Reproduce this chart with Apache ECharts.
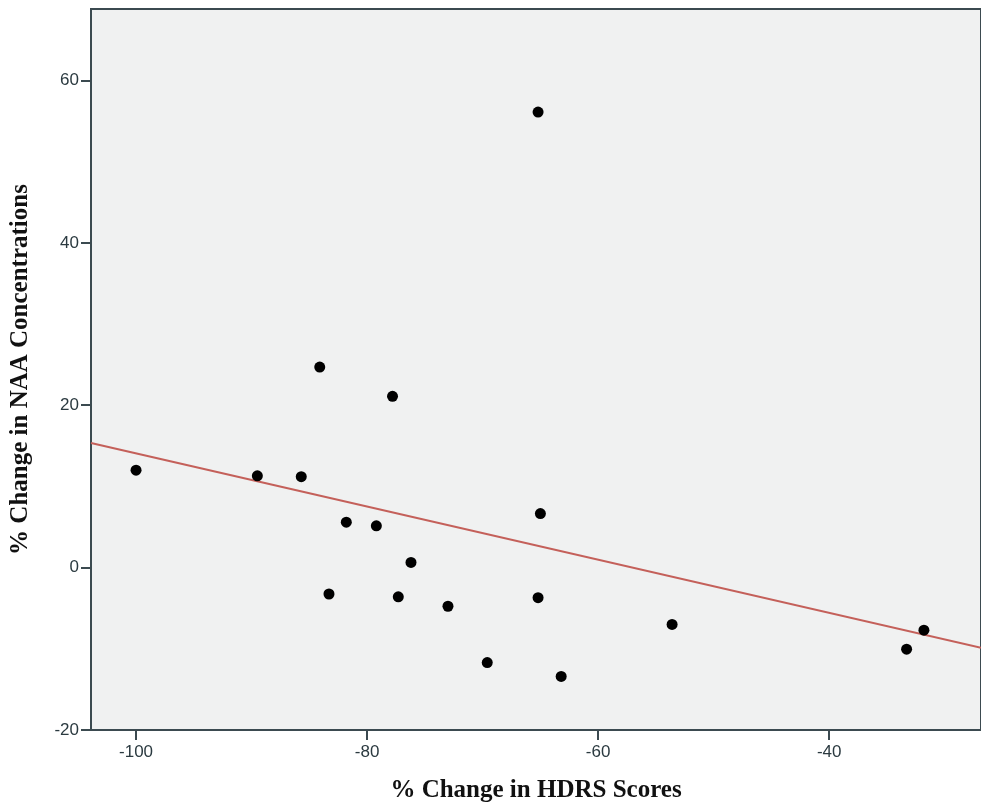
<!DOCTYPE html>
<html>
<head>
<meta charset="utf-8">
<script src="https://cdn.jsdelivr.net/npm/echarts@6/dist/echarts.min.js"></script>
<style>
html,body{margin:0;padding:0;background:#ffffff;}
#chart{width:981px;height:808px;}
</style>
</head>
<body>
<div id="chart"></div>
<script>
// % Change in HDRS Scores (x) and % Change in NAA Concentrations (y)
const hdrsChange = [-100, -89.5, -85.7, -84.1, -81.8, -83.3, -77.8, -79.2, -76.2, -77.3, -73.0, -69.6, -65.2, -65.0, -65.2, -63.2, -53.6, -33.3, -31.8];
const naaChange  = [12.0, 11.3, 11.2, 24.7, 5.6, -3.25, 21.1, 5.15, 0.64, -3.6, -4.76, -11.7, 56.1, 6.66, -3.7, -13.4, -7.0, -10.05, -7.7];
// fitted regression line endpoints
const fitX = [-103.9, -26.86];
const fitY = [15.34, -9.87];
// tick labels
const xTicks = [-100, -80, -60, -40];
const yTicks = [-20, 0, 20, 40, 60];

const points = hdrsChange.map((x, i) => [x, naaChange[i]]);
const fitLine = fitX.map((x, i) => [x, fitY[i]]);

const axisColor = '#3b4a50';
const labelColor = '#2b3a40';

const chart = echarts.init(document.getElementById('chart'), null, {renderer: 'canvas'});
chart.setOption({
  animation: false,
  backgroundColor: '#ffffff',
  grid: {
    left: 88, right: -2, top: 9, bottom: 76,
    show: true,
    backgroundColor: '#f0f1f1',
    borderColor: axisColor,
    borderWidth: 2
  },
  xAxis: {
    type: 'value',
    min: -103.9,
    max: -26.86,
    name: '% Change in HDRS Scores',
    nameLocation: 'middle',
    nameGap: 48,
    nameTextStyle: {fontFamily: 'Liberation Serif', fontWeight: 'bold', fontSize: 25, color: '#111'},
    axisLine: {show: true, onZero: false, lineStyle: {color: axisColor, width: 2}},
    axisTick: {show: true, inside: false, customValues: xTicks, length: 10, lineStyle: {color: axisColor, width: 2}},
    axisLabel: {customValues: xTicks, fontFamily: 'Liberation Sans', fontSize: 17, color: labelColor, margin: 14},
    splitLine: {show: false}
  },
  yAxis: {
    type: 'value',
    min: -20,
    max: 68.8,
    name: '% Change in NAA Concentrations',
    nameLocation: 'middle',
    nameGap: 58,
    nameTextStyle: {fontFamily: 'Liberation Serif', fontWeight: 'bold', fontSize: 25, color: '#111'},
    axisLine: {show: true, onZero: false, lineStyle: {color: axisColor, width: 2}},
    axisTick: {show: true, inside: false, customValues: yTicks, length: 10, lineStyle: {color: axisColor, width: 2}},
    axisLabel: {customValues: yTicks, fontFamily: 'Liberation Sans', fontSize: 17, color: labelColor, margin: 12},
    splitLine: {show: false}
  },
  series: [
    {
      type: 'line',
      data: fitLine,
      showSymbol: false,
      symbol: 'none',
      lineStyle: {color: '#c4605a', width: 2},
      silent: true,
      clip: true,
      z: 2
    },
    {
      type: 'scatter',
      data: points,
      symbol: 'circle',
      symbolSize: 11,
      itemStyle: {color: '#000000', opacity: 1},
      z: 3
    }
  ]
});
</script>
</body>
</html>
